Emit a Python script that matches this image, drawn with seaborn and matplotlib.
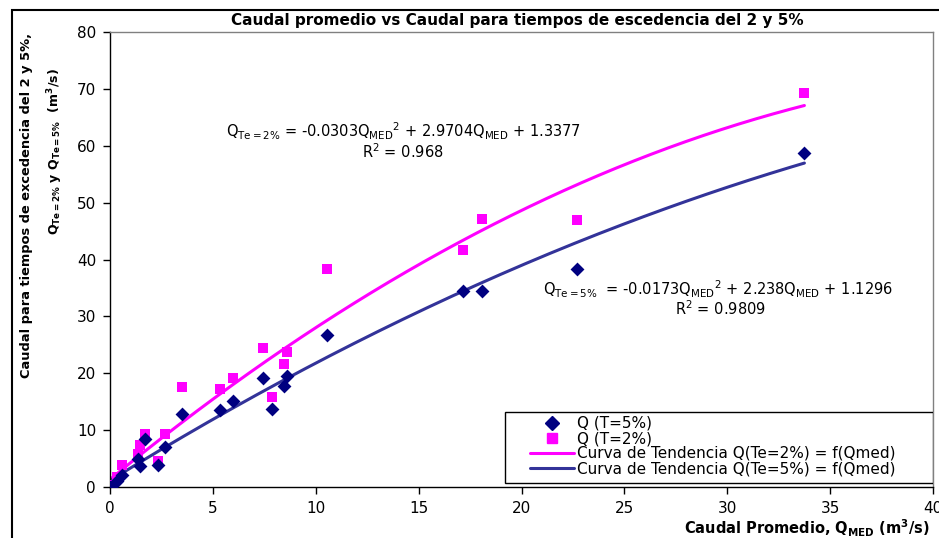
import numpy as np
import pandas as pd
import matplotlib
matplotlib.use("Agg")
import matplotlib.pyplot as plt
from matplotlib.patches import Rectangle
from matplotlib.lines import Line2D
import seaborn as sns

# Caudal medio (m3/s) y caudales para tiempos de excedencia del 2% y 5%
q_med = [0.0, 0.35, 0.6, 1.38, 1.46, 1.7, 2.35, 2.65, 3.5, 5.37, 6.0,
         7.42, 7.88, 8.45, 8.6, 10.55, 17.14, 18.08, 22.72, 33.75]
q_te2 = [0.3, 1.8, 3.9, 5.8, 7.3, 9.3, 4.5, 9.3, 17.6, 17.2, 19.1,
         24.5, 15.9, 21.6, 23.8, 38.3, 41.6, 47.2, 46.9, 69.3]
q_te5 = [0.0, 1.0, 2.1, 5.0, 3.7, 8.4, 3.9, 7.0, 12.9, 13.5, 15.2,
         19.1, 13.8, 17.8, 19.6, 26.8, 34.5, 34.5, 38.4, 58.8]

# Coeficientes de las curvas de tendencia (polinomio de 2do grado)
coef_te2 = [-0.0303, 2.9704, 1.3377]
coef_te5 = [-0.0173, 2.238, 1.1296]
r2_te2 = 0.968
r2_te5 = 0.9809

x_ticks = [0, 5, 10, 15, 20, 25, 30, 35, 40]
y_ticks = [0, 10, 20, 30, 40, 50, 60, 70, 80]

sns.set_style("white")
plt.rcParams["font.family"] = ["DejaVu Sans"]
plt.rcParams["mathtext.default"] = "regular"
plt.rcParams["text.color"] = "black"
plt.rcParams["xtick.color"] = "black"
plt.rcParams["ytick.color"] = "black"

W, H = 939, 538
fig = plt.figure(figsize=(W / 100, H / 100), dpi=100)
ax = fig.add_axes([110 / W, 1 - 487 / H, 823 / W, 455 / H])

df = pd.DataFrame({"Qmed": q_med, "Q2": q_te2, "Q5": q_te5})
xs = np.linspace(0, max(q_med), 200)
curves = pd.DataFrame({
    "x": xs,
    "y2": np.polyval(coef_te2, xs),
    "y5": np.polyval(coef_te5, xs),
})

blue_line = "#333399"
navy = "#000080"
magenta = "#FF00FF"

sns.lineplot(data=curves, x="x", y="y2", ax=ax, color=magenta, lw=2.2, legend=False)
sns.lineplot(data=curves, x="x", y="y5", ax=ax, color=blue_line, lw=2.2, legend=False)
sns.scatterplot(data=df, x="Qmed", y="Q2", ax=ax, marker="s", color=magenta,
                s=55, edgecolor=magenta, linewidth=0, zorder=4, legend=False)
sns.scatterplot(data=df, x="Qmed", y="Q5", ax=ax, marker="D", color=navy,
                s=50, edgecolor=navy, linewidth=0, zorder=5, legend=False)

ax.set_xlim(0, 40)
ax.set_ylim(0, 80)
ax.set_xticks(x_ticks)
ax.set_yticks(y_ticks)
ax.tick_params(axis="both", direction="out", length=5, width=1, color="black",
               labelcolor="black", labelsize=11, pad=5, bottom=True, left=True)
ax.set_xlabel("")
ax.set_ylabel("")
for side in ("left", "bottom"):
    ax.spines[side].set_color("black")
    ax.spines[side].set_linewidth(1.0)
for side in ("top", "right"):
    ax.spines[side].set_visible(True)
    ax.spines[side].set_color("#808080")
    ax.spines[side].set_linewidth(1.0)

# Ecuaciones de las curvas de tendencia
ax.text(403 / W, 1 - 131 / H,
        r"Q$_{Te=2\%}$ = -0.0303Q$_{MED}$$^{2}$ + 2.9704Q$_{MED}$ + 1.3377",
        transform=fig.transFigure, ha="center", va="center", fontsize=10.5)
ax.text(403 / W, 1 - 152 / H, f"R$^{{2}}$ = {r2_te2}",
        transform=fig.transFigure, ha="center", va="center", fontsize=10.5)
ax.text(718 / W, 1 - 289 / H,
        r"Q$_{Te=5\%}$  = -0.0173Q$_{MED}$$^{2}$ + 2.238Q$_{MED}$ + 1.1296",
        transform=fig.transFigure, ha="center", va="center", fontsize=10.5)
ax.text(720 / W, 1 - 309 / H, f"R$^{{2}}$ = {r2_te5}",
        transform=fig.transFigure, ha="center", va="center", fontsize=10.5)

# Leyenda con marco rectangular propio
handles = [
    Line2D([], [], ls="none", marker="D", color=navy, markersize=7),
    Line2D([], [], ls="none", marker="s", color=magenta, markersize=7),
    Line2D([], [], color=magenta, lw=2.2),
    Line2D([], [], color=blue_line, lw=2.2),
]
labels = ["Q (T=5%)", "Q (T=2%)",
          "Curva de Tendencia Q(Te=2%) = f(Qmed)",
          "Curva de Tendencia Q(Te=5%) = f(Qmed)"]
leg = ax.legend(handles, labels, loc="center left",
                bbox_to_anchor=((530 - 110) / 823, (487 - 446) / 455),
                fontsize=11, frameon=False, handlelength=2.9,
                labelspacing=0.0, borderpad=0.0, handletextpad=0.2,
                borderaxespad=0.0)
ax.add_patch(Rectangle(((505 - 110) / 823, (487 - 483) / 455), 428 / 823, 71 / 455,
                       transform=ax.transAxes, facecolor="white",
                       edgecolor="black", lw=1.0, zorder=6))
leg.set_zorder(7)

fig.text(517 / W, 1 - 20 / H,
         "Caudal promedio vs Caudal para tiempos de escedencia del 2 y 5%",
         ha="center", va="center", fontsize=11, fontweight="bold")
fig.text(930 / W, 1 - 528 / H, r"Caudal Promedio, Q$_{MED}$ (m$^{3}$/s)",
         ha="right", va="center", fontsize=10.5, fontweight="bold")
fig.text(27 / W, 1 - 205 / H, "Caudal para tiempos de excedencia del 2 y 5%,",
         ha="center", va="center", rotation=90, fontsize=9.4, fontweight="bold")
fig.text(55 / W, 1 - 152 / H, r"Q$_{Te=2\%}$ y Q$_{Te=5\%}$  (m$^{3}$/s)",
         ha="center", va="center", rotation=90, fontsize=9, fontweight="bold")

# Marco exterior del gráfico
fig.patches.append(Rectangle((12 / W, -0.2), 1.3, 1.2 - 10 / H,
                             transform=fig.transFigure, fill=False,
                             edgecolor="black", lw=1.5, clip_on=False))

fig.savefig("out.png", dpi=100)
